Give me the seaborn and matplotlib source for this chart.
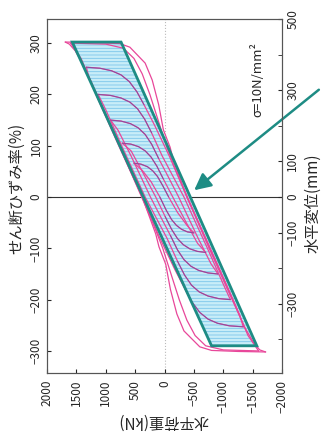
import matplotlib
matplotlib.use("Agg")
import matplotlib.pyplot as plt
import numpy as np
import pandas as pd
import seaborn as sns
from matplotlib.ticker import FixedLocator

sns.set_style("ticks")
plt.rcParams['font.family'] = ['Noto Sans CJK JP', 'DejaVu Sans']
plt.rcParams['hatch.linewidth'] = 0.6

# bilinear model (parallelogram) corners: shear strain (%) / load (kN)
band_g = [302, 302, -290, -290]
band_q = [1570, 740, -1570, -800]

# hysteresis loops: (strain %, load kN)
loops = {
    "300a": dict(
        g_down=[302, 301, 299, 292, 261, 228, 180, 131, 97, 72, 0, -100, -200, -255, -285, -298, -302],
        q_down=[1690, 1250, 760, 590, 330, 210, 100, 20, -95, -150, -380, -760, -1150, -1370, -1520, -1620, -1720],
        g_up=[-302, -301, -299, -292, -261, -228, -180, -131, -97, -72, 0, 100, 200, 255, 285, 298, 302],
        q_up=[-1720, -1250, -800, -600, -330, -210, -100, -20, 95, 150, 380, 760, 1150, 1370, 1520, 1620, 1690]),
    "300b": dict(
        g_down=[300, 298, 290, 270, 240, 200, 150, 100, 50, 0, -100, -200, -270, -300],
        q_down=[1600, 1000, 700, 520, 380, 250, 110, -30, -200, -390, -770, -1160, -1420, -1600],
        g_up=[-300, -298, -290, -270, -240, -200, -150, -100, -50, 0, 100, 200, 270, 300],
        q_up=[-1600, -1000, -700, -520, -380, -250, -110, 30, 200, 390, 770, 1160, 1420, 1600]),
    "250": dict(
        g_down=[253, 251, 246, 238, 225, 205, 180, 140, 80, 0, -100, -180, -230, -253],
        q_down=[1330, 1100, 900, 740, 600, 470, 350, 170, -80, -380, -780, -1090, -1280, -1340],
        g_up=[-253, -251, -246, -238, -225, -205, -180, -140, -80, 0, 100, 180, 230, 253],
        q_up=[-1340, -1100, -900, -740, -600, -470, -350, -170, 80, 380, 780, 1090, 1280, 1330]),
    "200": dict(
        g_down=[200, 198, 193, 185, 172, 152, 125, 80, 0, -100, -170, -200],
        q_down=[1130, 920, 740, 590, 460, 340, 220, 40, -330, -730, -1000, -1120],
        g_up=[-200, -198, -193, -185, -172, -152, -125, -80, 0, 100, 170, 200],
        q_up=[-1120, -920, -740, -590, -460, -340, -220, -40, 330, 730, 1000, 1130]),
    "150": dict(
        g_down=[150, 148, 143, 135, 122, 103, 75, 40, 0, -80, -130, -150],
        q_down=[920, 740, 580, 450, 330, 220, 100, -60, -240, -570, -790, -910],
        g_up=[-150, -148, -143, -135, -122, -103, -75, -40, 0, 80, 130, 150],
        q_up=[-910, -740, -580, -450, -330, -220, -100, 60, 240, 570, 790, 920]),
    "100": dict(
        g_down=[105, 103, 98, 90, 78, 60, 35, 0, -50, -90, -108],
        q_down=[720, 570, 440, 330, 230, 130, 20, -140, -370, -560, -700],
        g_up=[-108, -106, -101, -93, -81, -63, -38, 0, 50, 90, 105],
        q_up=[-700, -560, -430, -320, -220, -120, -10, 150, 380, 570, 720]),
    "50": dict(
        g_down=[66, 64, 59, 51, 40, 22, 0, -30, -55, -70],
        q_down=[520, 400, 290, 200, 120, 30, -70, -220, -380, -500],
        g_up=[-70, -68, -63, -55, -44, -26, 0, 30, 52, 66],
        q_up=[-500, -390, -290, -200, -120, -30, 80, 230, 380, 520]),
}

strain_ticks = [-300, -200, -100, 0, 100, 200, 300]
load_ticks = [2000, 1500, 1000, 500, 0, -500, -1000, -1500, -2000]
disp_ticks = [-500, -300, -100, 0, 100, 300, 500]
mm_per_pct = 1.441

pink = "#e8479a"
purple = "#7b4c9c"
teal = "#1e8c84"

rows = []
arcs = []
for name, d in loops.items():
    for br in ("down", "up"):
        g, q = d["g_" + br], d["q_" + br]
        for i, (gg, qq) in enumerate(zip(g, q)):
            rows.append({"loop": name + br, "gamma": gg, "Q": qq})
            if not name.startswith("300") and i < 7:
                arcs.append({"loop": name + br, "gamma": gg, "Q": qq})
df = pd.DataFrame(rows)
df_arc = pd.DataFrame(arcs)

fig = plt.figure(figsize=(3.22, 4.36), dpi=100)
ax = fig.add_axes([0.146, 0.1445, 0.730, 0.812])

# band: light fill with horizontal hatch, then teal outline
ax.fill(band_q, band_g, facecolor="#c8edf8", edgecolor="#7cc6ea", hatch="-----", lw=0, zorder=1)
ax.fill(band_q, band_g, facecolor="none", edgecolor=teal, lw=2.0, zorder=4)

ax.axhline(0, color="#333333", lw=0.8, zorder=0)
ax.axvline(0, color="#bbbbbb", lw=0.8, ls=":", zorder=0)

sns.lineplot(data=df, x="Q", y="gamma", units="loop", estimator=None, sort=False,
             color=pink, lw=0.9, ax=ax, zorder=3)
sns.lineplot(data=df_arc, x="Q", y="gamma", units="loop", estimator=None, sort=False,
             color=purple, lw=0.7, alpha=0.85, ax=ax, zorder=3)

ax.set_xlim(2000, -2000)
ax.set_ylim(-343, 347)
ax.set_xlabel("")
ax.set_ylabel("")
ax.xaxis.set_major_locator(FixedLocator(load_ticks))
ax.yaxis.set_major_locator(FixedLocator(strain_ticks))
ax.tick_params(axis="x", direction="in", length=3, labelsize=8.5, labelrotation=90, pad=5)
ax.tick_params(axis="y", direction="in", length=3, labelsize=8.5, labelrotation=90, pad=3)
for t in ax.get_yticklabels():
    t.set_va("center")

ax2 = ax.twinx()
ax2.set_ylim(-343 * mm_per_pct, 347 * mm_per_pct)
ax2.yaxis.set_major_locator(FixedLocator(disp_ticks))
ax2.yaxis.set_minor_locator(FixedLocator([-400, -200, 200, 400]))
ax2.tick_params(axis="y", which="both", direction="in", length=3, labelsize=8.5, labelrotation=90, pad=3)
for t in ax2.get_yticklabels():
    t.set_va("center")

for a in (ax, ax2):
    for s in a.spines.values():
        s.set_color("#555555")
        s.set_linewidth(0.8)

W, H = 322, 436
fig.text(17 / W, 1 - 188 / H, "せん断ひずみ率(%)", rotation=90, ha="center", va="center", fontsize=11)
fig.text(313 / W, 1 - 203 / H, "水平変位(mm)", rotation=90, ha="center", va="center", fontsize=11)
fig.text(163 / W, 1 - 421 / H, "水平荷重(kN)", rotation=180, ha="center", va="center", fontsize=11)
fig.text(257 / W, 1 - 80 / H, "σ=10N/mm²", rotation=90, ha="center", va="center", fontsize=9.5)

ax.annotate("", xy=(192, H - 192), xycoords="figure pixels",
            xytext=(321, H - 88), textcoords="figure pixels",
            arrowprops=dict(arrowstyle="-|>,head_length=1.0,head_width=0.5", color=teal, lw=1.8),
            annotation_clip=False)

fig.savefig("out.png", dpi=100)
